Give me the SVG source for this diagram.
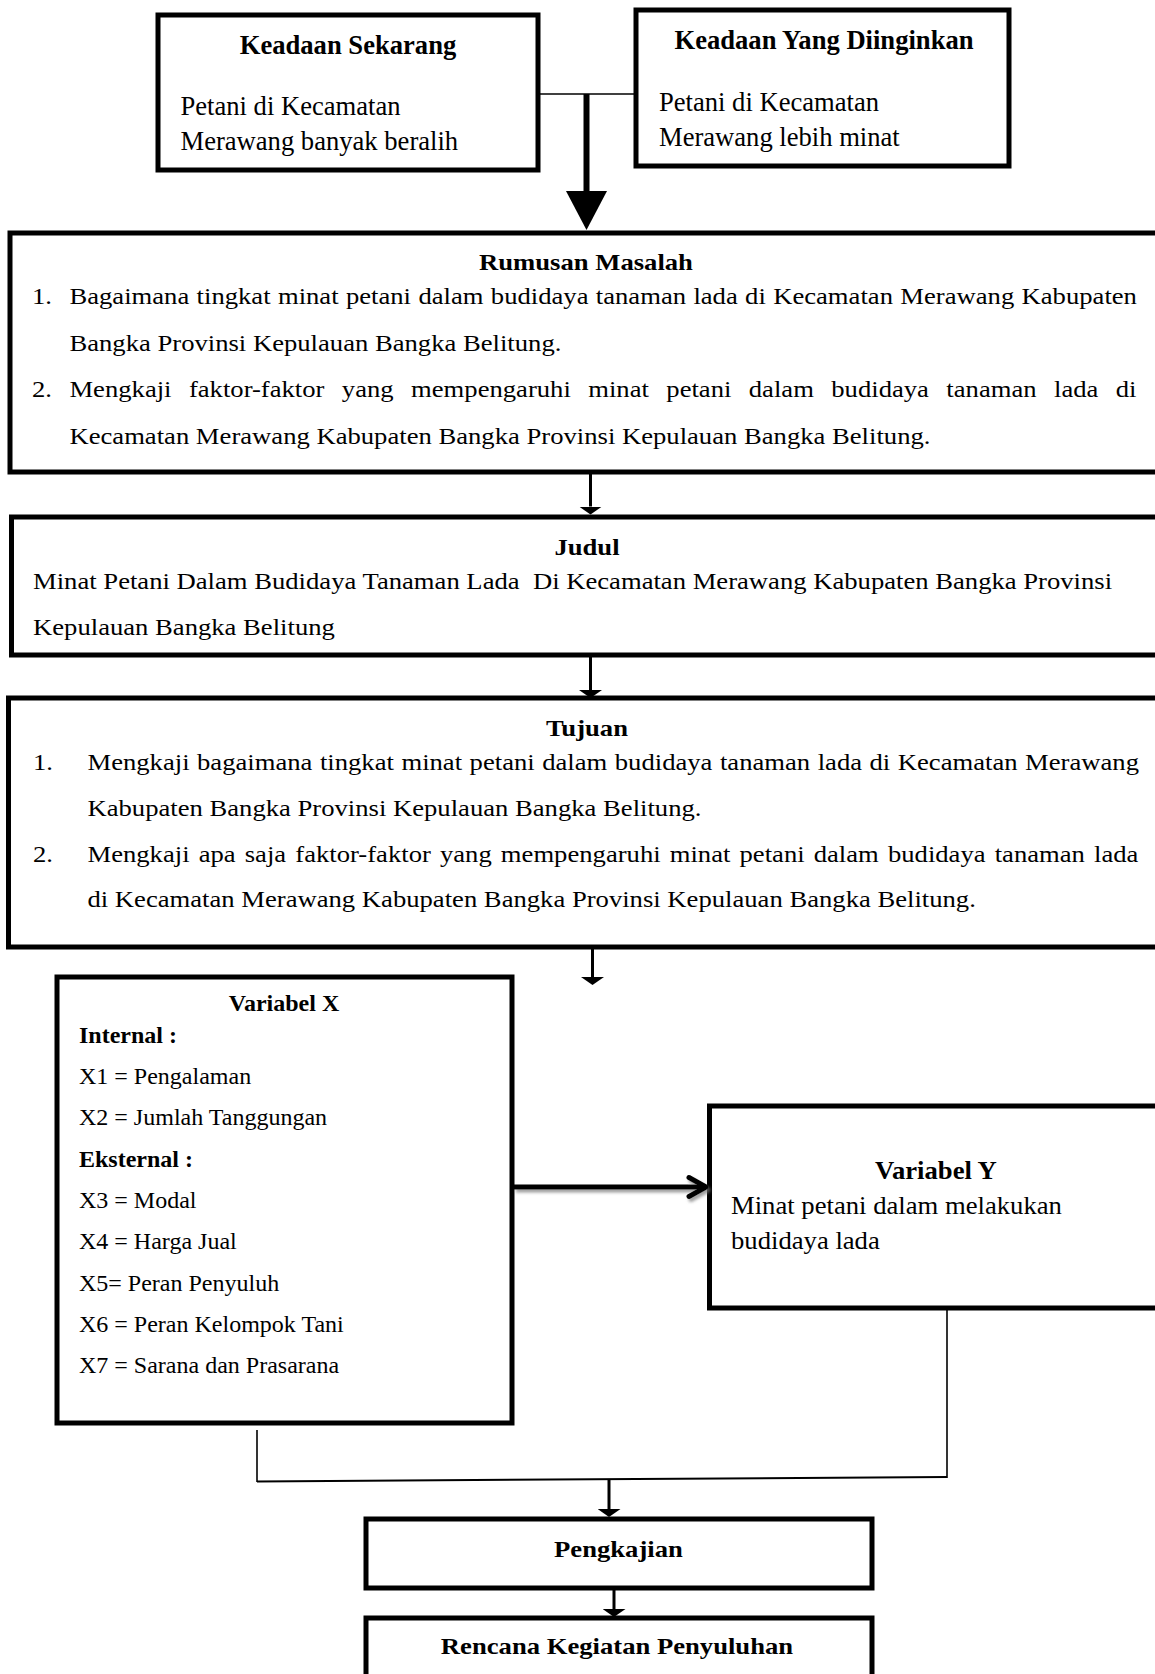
<svg xmlns="http://www.w3.org/2000/svg" width="1155" height="1674" viewBox="0 0 1155 1674">
<style>
.t{font-family:"Liberation Serif","Times New Roman",serif;fill:#000}
.b{font-weight:bold}
.m{text-anchor:middle}
.box{fill:#fff;stroke:#000;stroke-width:5}
.ln{fill:none;stroke:#000}
</style>
<defs>
<marker id="ah" viewBox="0 0 8 23" refX="0" refY="11.5" markerWidth="8" markerHeight="23" markerUnits="userSpaceOnUse" orient="auto">
<path d="M0,0 L8,11.5 L0,23 Z" fill="#000"/>
</marker>
<filter id="sh" x="-10%" y="-100%" width="120%" height="300%">
<feDropShadow dx="2" dy="3" stdDeviation="1.5" flood-color="#777" flood-opacity="0.7"/>
</filter>
</defs>
<rect width="1155" height="1674" fill="#fff"/>

<g id="keadaan-sekarang">
<rect class="box" x="158" y="15" width="380" height="155"/>
<text class="t b m" x="348" y="54" font-size="26.6">Keadaan Sekarang</text>
<text class="t" x="180.5" y="115" font-size="26.6">Petani di Kecamatan</text>
<text class="t" x="180.5" y="150" font-size="26.6">Merawang banyak beralih</text>
</g>

<g id="keadaan-diinginkan">
<rect class="box" x="636" y="10" width="373" height="156"/>
<text class="t b m" x="824" y="49" font-size="26.6">Keadaan Yang Diinginkan</text>
<text class="t" x="659" y="111" font-size="26.6">Petani di Kecamatan</text>
<text class="t" x="659" y="146" font-size="26.6">Merawang lebih minat</text>
</g>

<g id="rumusan-masalah">
<rect class="box" x="10" y="233" width="1200" height="239"/>
<g transform="scale(1.12,1)" font-size="23.8">
<text class="t b m" x="523.2" y="270">Rumusan Masalah</text>
<text class="t" x="28.6" y="304">1.</text>
<text class="t" x="62" y="304" word-spacing="0.62">Bagaimana tingkat minat petani dalam budidaya tanaman lada di Kecamatan Merawang Kabupaten</text>
<text class="t" x="62" y="351">Bangka Provinsi Kepulauan Bangka Belitung.</text>
<text class="t" x="28.6" y="397">2.</text>
<text class="t" x="62" y="397" word-spacing="9.6">Mengkaji faktor-faktor yang mempengaruhi minat petani dalam budidaya tanaman lada di</text>
<text class="t" x="62" y="444">Kecamatan Merawang Kabupaten Bangka Provinsi Kepulauan Bangka Belitung.</text>
</g>
</g>

<g id="judul">
<rect class="box" x="11.5" y="517" width="1200" height="138"/>
<g transform="scale(1.12,1)" font-size="23.8">
<text class="t b m" x="524.1" y="555">Judul</text>
<text class="t" x="29.5" y="589" xml:space="preserve">Minat Petani Dalam Budidaya Tanaman Lada  Di Kecamatan Merawang Kabupaten Bangka Provinsi</text>
<text class="t" x="29.5" y="635">Kepulauan Bangka Belitung</text>
</g>
</g>

<g id="tujuan">
<rect class="box" x="8.5" y="698" width="1200" height="249"/>
<g transform="scale(1.12,1)" font-size="23.8">
<text class="t b m" x="524.1" y="736">Tujuan</text>
<text class="t" x="29.5" y="770">1.</text>
<text class="t" x="78.1" y="770" word-spacing="0.76">Mengkaji bagaimana tingkat minat petani dalam budidaya tanaman lada di Kecamatan Merawang</text>
<text class="t" x="78.1" y="816">Kabupaten Bangka Provinsi Kepulauan Bangka Belitung.</text>
<text class="t" x="29.5" y="862">2.</text>
<text class="t" x="78.1" y="862" word-spacing="2.2">Mengkaji apa saja faktor-faktor yang mempengaruhi minat petani dalam budidaya tanaman lada</text>
<text class="t" x="78.1" y="907">di Kecamatan Merawang Kabupaten Bangka Provinsi Kepulauan Bangka Belitung.</text>
</g>
</g>

<g id="variabel-x">
<rect class="box" x="57" y="977" width="455" height="446"/>
<g font-size="24">
<text class="t b m" x="284" y="1011">Variabel X</text>
<text class="t b" x="79" y="1043">Internal :</text>
<text class="t" x="79" y="1084">X1 = Pengalaman</text>
<text class="t" x="79" y="1125">X2 = Jumlah Tanggungan</text>
<text class="t b" x="79" y="1167">Eksternal :</text>
<text class="t" x="79" y="1208">X3 = Modal</text>
<text class="t" x="79" y="1249">X4 = Harga Jual</text>
<text class="t" x="79" y="1291">X5= Peran Penyuluh</text>
<text class="t" x="79" y="1332">X6 = Peran Kelompok Tani</text>
<text class="t" x="79" y="1373">X7 = Sarana dan Prasarana</text>
</g>
</g>

<g id="variabel-y">
<rect class="box" x="709.5" y="1106" width="500" height="202"/>
<g transform="scale(1.05,1)" font-size="25.4">
<text class="t b m" x="891.4" y="1179">Variabel Y</text>
<text class="t" x="696.2" y="1214">Minat petani dalam melakukan</text>
<text class="t" x="696.2" y="1249">budidaya lada</text>
</g>
</g>

<g id="pengkajian">
<rect class="box" x="366" y="1519" width="506" height="69"/>
<g transform="scale(1.12,1)" font-size="23.8">
<text class="t b m" x="552.2" y="1557">Pengkajian</text>
</g>
</g>

<g id="rencana">
<rect class="box" x="366" y="1618" width="506" height="100"/>
<g transform="scale(1.12,1)" font-size="23.8">
<text class="t b m" x="550.9" y="1654">Rencana Kegiatan Penyuluhan</text>
</g>
</g>

<g id="connectors">
<line class="ln" x1="538" y1="94" x2="636" y2="94" stroke-width="1.6"/>
<line class="ln" x1="586.5" y1="94" x2="586.5" y2="192" stroke-width="6"/>
<polygon points="566,191 607,191 586.5,230" fill="#000"/>
<line class="ln" x1="590.5" y1="474" x2="590.5" y2="506.5" stroke-width="3" marker-end="url(#ah)"/>
<line class="ln" x1="590.5" y1="657" x2="590.5" y2="690" stroke-width="3" marker-end="url(#ah)"/>
<line class="ln" x1="592.5" y1="949" x2="592.5" y2="977" stroke-width="3" marker-end="url(#ah)"/>
<g filter="url(#sh)">
<line class="ln" x1="514" y1="1187" x2="704" y2="1187" stroke-width="5"/>
<polyline class="ln" points="689,1177.5 706,1187 689,1196.5" stroke-width="5" stroke-linecap="round" stroke-linejoin="round"/>
</g>
<line class="ln" x1="257" y1="1430" x2="257" y2="1482" stroke-width="1.6"/>
<line class="ln" x1="947" y1="1310" x2="947" y2="1478" stroke-width="1.6"/>
<line class="ln" x1="257" y1="1481.5" x2="947" y2="1477" stroke-width="2"/>
<line class="ln" x1="609" y1="1479" x2="609" y2="1509" stroke-width="3" marker-end="url(#ah)"/>
<line class="ln" x1="614" y1="1590" x2="614" y2="1609" stroke-width="3" marker-end="url(#ah)"/>
</g>
</svg>
